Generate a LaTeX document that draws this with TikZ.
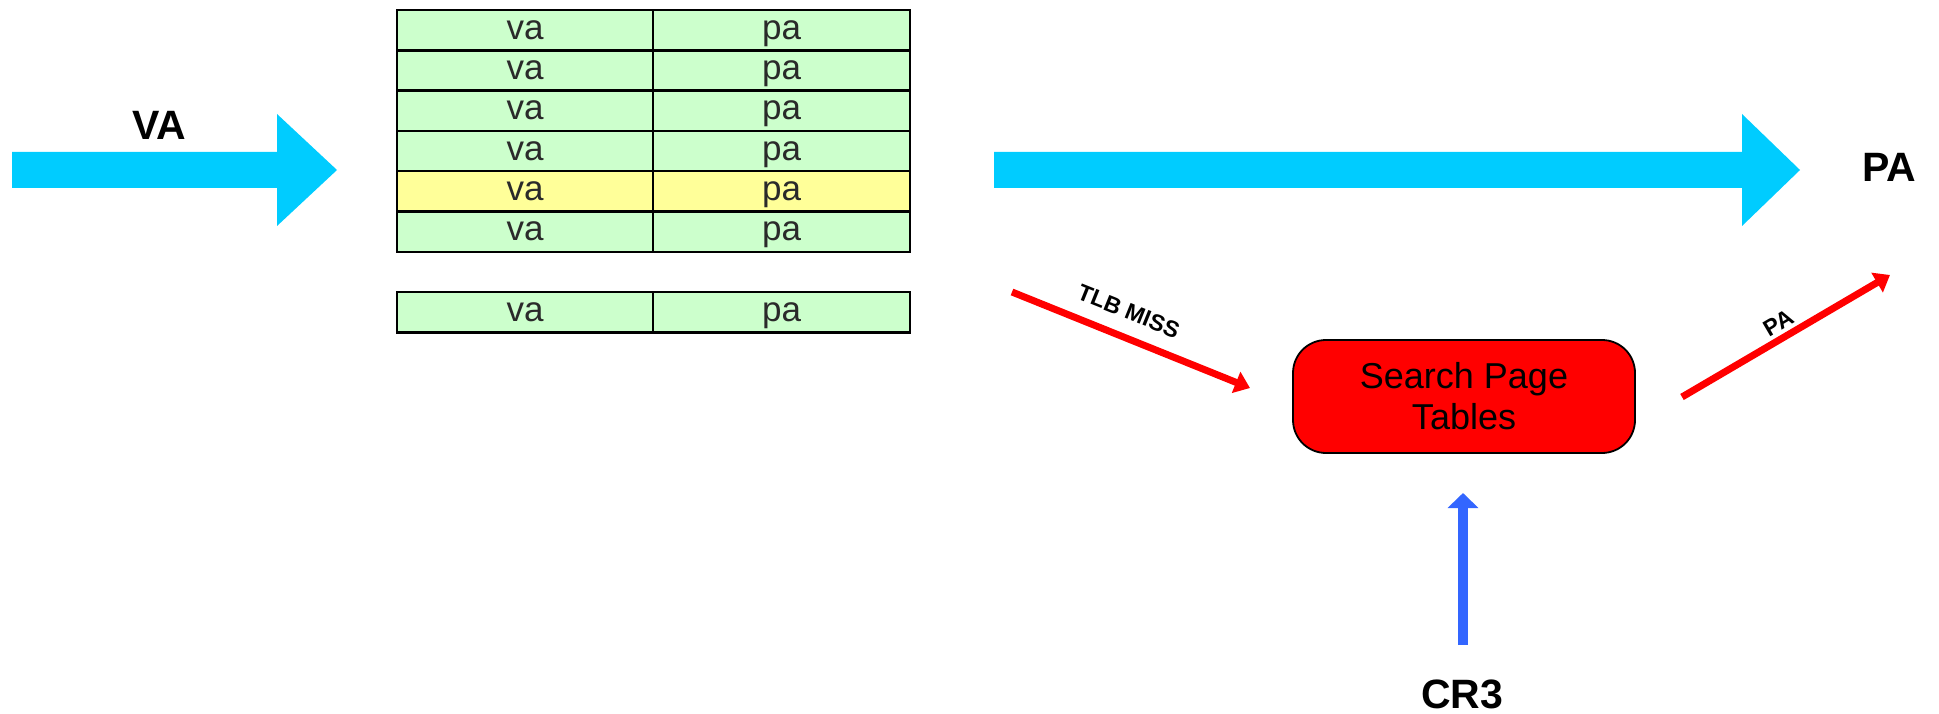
\documentclass[tikz,border=0pt]{standalone}
\usepackage{fontspec}
\setmainfont{Liberation Sans}
\usetikzlibrary{arrows.meta,calc}
\definecolor{cellgreen}{HTML}{CCFFCC}
\definecolor{cellyellow}{HTML}{FFFF99}
\definecolor{celltext}{HTML}{2A2A2A}
\definecolor{arrowcyan}{HTML}{00CCFF}
\definecolor{missred}{HTML}{FF0000}
\definecolor{crblue}{HTML}{3366FF}
\begin{document}
\begin{tikzpicture}[x=1pt,y=-1pt,
  cell/.style={draw=black, line width=2.5pt, fill=cellgreen, minimum height=40.3pt,
    inner sep=0pt, outer sep=0pt, anchor=north west, text=celltext,
    font=\fontsize{35}{40}\selectfont, text height=18pt, text depth=0pt},
  vacell/.style={cell, minimum width=256pt},
  pacell/.style={cell, minimum width=257pt},
  hit/.style={fill=cellyellow},
  fat/.style={fill=arrowcyan},
  biglabel/.style={font=\fontsize{41}{44}\selectfont\bfseries, anchor=base, inner sep=0pt},
  redarrow/.style={draw=missred, line width=7pt, -{Triangle[width=22pt,length=15pt]}},
  smalllabel/.style={font=\fontsize{23}{26}\selectfont\bfseries, sloped, anchor=south, inner sep=0pt},
  searchbox/.style={draw=black, line width=1.8pt, fill=missred, rounded corners=33pt,
    minimum width=342pt, minimum height=113pt, align=center,
    font=\fontsize{36}{41}\selectfont},
  bluearrow/.style={draw=crblue, line width=10pt, -{Triangle[width=30pt,length=15pt]}}
]
\useasboundingbox (0,0) rectangle (1939,714);

% TLB table
\node[vacell] (va1) at (397,10) {va};
\node[pacell] (pa1) at (653,10) {pa};
\node[vacell] (va2) at (397,50.3) {va};
\node[pacell] (pa2) at (653,50.3) {pa};
\node[vacell] (va3) at (397,90.6) {va};
\node[pacell] (pa3) at (653,90.6) {pa};
\node[vacell] (va4) at (397,130.9) {va};
\node[pacell] (pa4) at (653,130.9) {pa};
\node[vacell,hit] (va5) at (397,171.2) {va};
\node[pacell,hit] (pa5) at (653,171.2) {pa};
\node[vacell] (va6) at (397,211.5) {va};
\node[pacell] (pa6) at (653,211.5) {pa};
\node[vacell] (va7) at (397,292) {va};
\node[pacell] (pa7) at (653,292) {pa};

% labels
\node[biglabel] (valabel) at (159,140) {VA};
\node[biglabel] (palabel) at (1889,182) {PA};
\node[biglabel] (crlabel) at (1462,708) {CR3};

% fat arrows
\coordinate (vaS) at (12,170);
\coordinate (vaE) at (337,170);
\fill[fat] ($(vaS)+(0,-18)$) -- ($(vaE)+(-60,-18)$) -- ($(vaE)+(-60,-56)$) -- (vaE)
  -- ($(vaE)+(-60,56)$) -- ($(vaE)+(-60,18)$) -- ($(vaS)+(0,18)$) -- cycle;
\coordinate (paS) at (994,170);
\coordinate (paE) at (1800,170);
\fill[fat] ($(paS)+(0,-18)$) -- ($(paE)+(-58,-18)$) -- ($(paE)+(-58,-56)$) -- (paE)
  -- ($(paE)+(-58,56)$) -- ($(paE)+(-58,18)$) -- ($(paS)+(0,18)$) -- cycle;

% search box
\node[searchbox] (spt) at (1464,396.5) {Search Page\\Tables};

% red arrows
\coordinate (missS) at (1012,292);
\coordinate (missE) at (1250,388);
\draw[redarrow] (missS) -- node[smalllabel, pos=0.45, outer sep=17.5pt] (misslabel) {TLB MISS} (missE);
\coordinate (outS) at (1682,397);
\coordinate (outE) at (1890,275);
\draw[redarrow] (outS) -- node[smalllabel, pos=0.5, outer sep=7pt] (outlabel) {PA} (outE);

% CR3 arrow
\coordinate (crS) at (1463,645);
\coordinate (crE) at (1463,493);
\draw[bluearrow] (crS) -- (crE);
\end{tikzpicture}
\end{document}
